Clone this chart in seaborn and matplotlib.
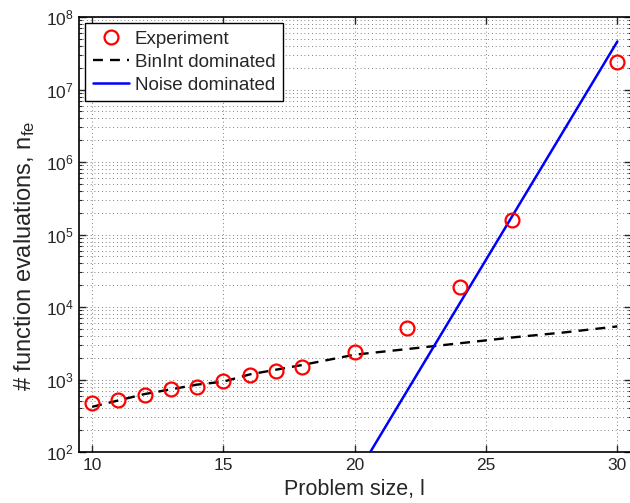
import numpy as np
import pandas as pd
import matplotlib
matplotlib.use("Agg")
import matplotlib.pyplot as plt
import seaborn as sns
from matplotlib.ticker import LogLocator, FixedLocator, NullFormatter

# ---- data ----
exp_x = [10, 11, 12, 13, 14, 15, 16, 17, 18, 20, 22, 24, 26, 30]
exp_y = [470, 521, 611, 745, 800, 955, 1165, 1321, 1472, 2372, 5080, 18700, 158000, 2.4e7]

binint_x = [10, 12, 14, 15, 16, 18, 20, 22, 24, 26, 28, 30]
binint_y = [420, 630, 850, 935, 1175, 1585, 2200, 2630, 3160, 3800, 4470, 5400]

noise_x = [20, 30]
noise_y = [44, 4.6e7]

xticks = [10, 15, 20, 25, 30]

sns.set_style("ticks")
plt.rcParams["font.family"] = ["Liberation Sans", "DejaVu Sans"]
plt.rcParams["mathtext.fontset"] = "custom"
plt.rcParams["mathtext.rm"] = "Liberation Sans"
plt.rcParams["mathtext.it"] = "Liberation Sans:italic"

fig = plt.figure(figsize=(6.3, 5.03), dpi=100)
ax = fig.add_axes([79 / 630, 1 - 452 / 503, (630.5 - 79) / 630, (452 - 17) / 503])

df_b = pd.DataFrame({"x": binint_x, "y": binint_y})
df_n = pd.DataFrame({"x": noise_x, "y": noise_y})
df_e = pd.DataFrame({"x": exp_x, "y": exp_y})

sns.lineplot(data=df_b, x="x", y="y", ax=ax, color="black", linewidth=1.7,
             linestyle=(0, (4.2, 3.0)), label="BinInt dominated", zorder=3)
sns.lineplot(data=df_n, x="x", y="y", ax=ax, color="#0000ff", linewidth=1.8,
             label="Noise dominated", zorder=3)
ax.plot(df_e["x"], df_e["y"], linestyle="none", marker="o", markersize=10,
        markerfacecolor="none", markeredgecolor="#ff0000", markeredgewidth=1.6,
        label="Experiment", zorder=4)

ax.set_yscale("log")
ax.set_xlim(9.5, 30.5)
ax.set_ylim(1e2, 1e8)
ax.xaxis.set_major_locator(FixedLocator(xticks))
ax.yaxis.set_major_locator(LogLocator(base=10, numticks=10))
ax.yaxis.set_minor_locator(LogLocator(base=10, subs=np.arange(2, 10), numticks=20))
ax.yaxis.set_minor_formatter(NullFormatter())

ax.grid(True, which="major", axis="both", linestyle=(0, (1, 3.5)), color="#555555", linewidth=0.6)
ax.grid(True, which="minor", axis="y", linestyle=(0, (1, 3.5)), color="#555555", linewidth=0.6)

ax.tick_params(which="both", direction="in", top=True, right=True, labelsize=12.5, pad=4)
ax.tick_params(which="major", length=5, width=1)
ax.tick_params(which="minor", length=2.5, width=0.8)
for s in ax.spines.values():
    s.set_linewidth(1.2)
    s.set_color("black")

ax.set_xlabel("Problem size, l", fontsize=15.5, labelpad=5)
ax.set_ylabel(r"# function evaluations, n$_\mathdefault{fe}$", fontsize=17)
ax.yaxis.set_label_coords(-0.076, 0.45)

handles, labels = ax.get_legend_handles_labels()
order = [labels.index("Experiment"), labels.index("BinInt dominated"), labels.index("Noise dominated")]
leg = ax.legend([handles[i] for i in order], [labels[i] for i in order],
                loc="upper left", bbox_to_anchor=(6 / 551, 1 - 6 / 435),
                fontsize=13.5, frameon=True, fancybox=False, framealpha=1,
                edgecolor="black", handlelength=1.95, handletextpad=0.3,
                borderpad=0.4, labelspacing=0.32, borderaxespad=0)
leg.get_frame().set_linewidth(1.0)

fig.savefig("out.png", dpi=100)
